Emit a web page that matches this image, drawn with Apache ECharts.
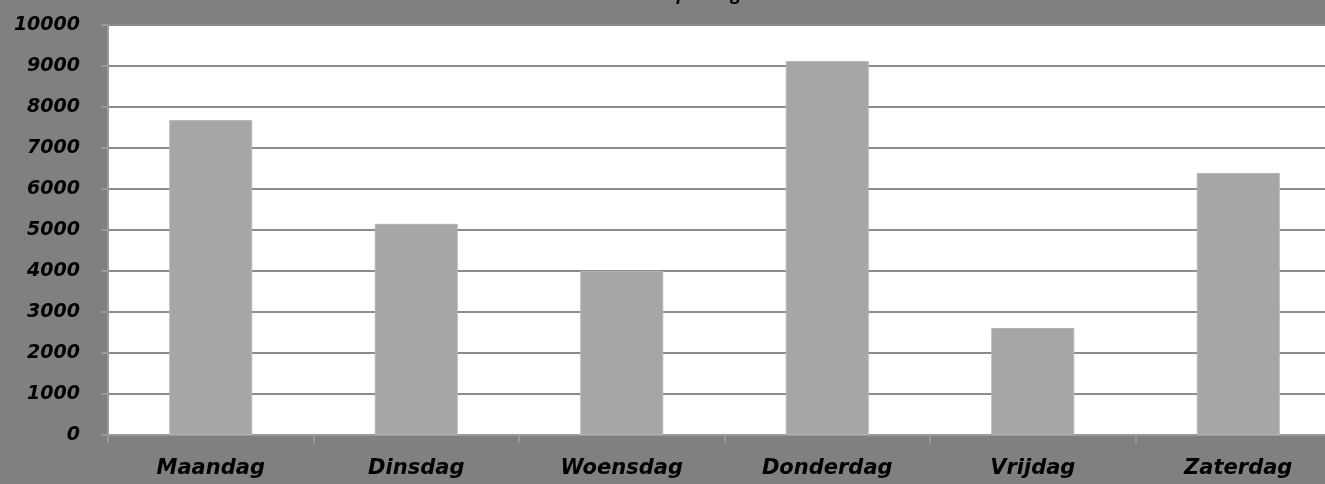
<!DOCTYPE html>
<html>
<head>
<meta charset="utf-8">
<style>
  html, body { margin: 0; padding: 0; background: #808080; }
  #chart { width: 1325px; height: 484px; }
</style>
<script src="https://cdn.jsdelivr.net/npm/echarts@6/dist/echarts.min.js"></script>
</head>
<body>
<div id="chart"></div>
<script>
// days of the week and the values per day
const dagen = ['Maandag', 'Dinsdag', 'Woensdag', 'Donderdag', 'Vrijdag', 'Zaterdag'];
const waarden = [7680, 5150, 4000, 9120, 2610, 6390];
const yMin = 0, yMax = 10000, yStap = 1000;

const chart = echarts.init(document.getElementById('chart'));

chart.setOption({
  backgroundColor: '#808080',
  animation: false,
  title: {
    text: 'Omzet per dag',
    left: 612,
    top: -19,
    textStyle: { fontFamily: 'Open Sans', fontSize: 18, fontWeight: 'bold', fontStyle: 'italic', color: '#000' }
  },
  // plot area runs a bit past the right edge of the window
  grid: {
    left: 108, width: 1233, top: 25, bottom: 49,
    outerBoundsMode: 'none', containLabel: false,
    show: true, backgroundColor: '#ffffff', borderWidth: 0
  },
  xAxis: {
    type: 'category',
    data: dagen,
    axisLine: { lineStyle: { color: '#999999', width: 2 } },
    axisTick: { show: true, length: 8, lineStyle: { color: '#999999', width: 2 } },
    axisLabel: {
      margin: 23,
      color: '#000',
      fontFamily: 'DejaVu Sans',
      fontSize: 21,
      fontWeight: 'bold',
      fontStyle: 'italic'
    }
  },
  yAxis: {
    type: 'value',
    min: yMin,
    max: yMax,
    interval: yStap,
    axisLine: { show: true, lineStyle: { color: '#999999', width: 2 } },
    axisTick: { show: true, length: 7, lineStyle: { color: '#999999', width: 2 } },
    splitLine: { lineStyle: { color: '#8c8c8c', width: 2 } },
    axisLabel: {
      margin: 28,
      color: '#000',
      fontFamily: 'DejaVu Sans',
      fontSize: 19,
      fontWeight: 'bold',
      fontStyle: 'italic',
      formatter: v => String(v)
    }
  },
  series: [{
    type: 'bar',
    data: waarden,
    barWidth: 83,
    itemStyle: { color: '#a6a6a6', borderColor: '#b4b4b4', borderWidth: 1 }
  }]
});
</script>
</body>
</html>
